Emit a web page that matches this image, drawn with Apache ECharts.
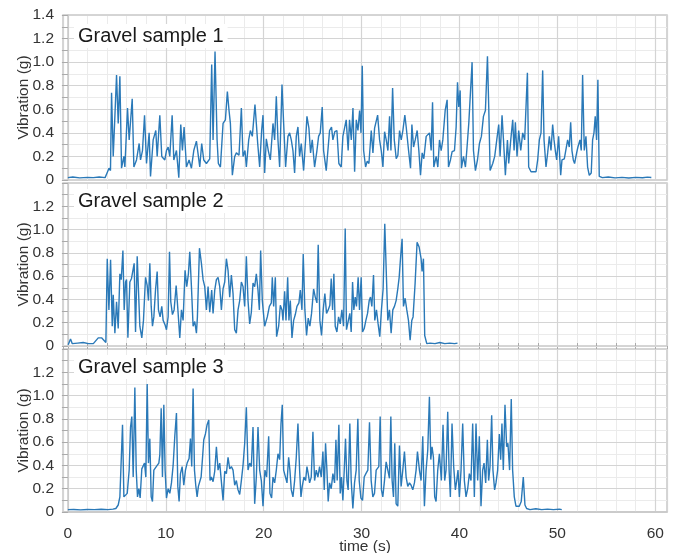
<!DOCTYPE html>
<html>
<head>
<meta charset="utf-8">
<script src="https://cdn.jsdelivr.net/npm/echarts@6/dist/echarts.min.js"></script>
<style>
html,body{margin:0;padding:0;background:#fff;}
#chart{width:678px;height:553px;}
</style>
</head>
<body>
<div id="chart"></div>
<script>
// ---- data (time in s, vibration in g) ----
const panelTitles = ['Gravel sample 1', 'Gravel sample 2', 'Gravel sample 3'];
const xTickLabels = ['0', '10', '20', '30', '40', '50', '60'];
const yTickLabels = ['0', '0.2', '0.4', '0.6', '0.8', '1.0', '1.2', '1.4'];

const sample1 = [
[0,0.02],[0.5,0.025],[1.2,0.018],[2.0,0.022],[2.6,0.02],[3.2,0.025],[3.8,0.02],[4.0,0.06],[4.2,0.1],[4.35,0.08],
[4.46,0.74],[4.63,0.20],[4.80,0.54],[4.97,0.89],[5.14,0.48],[5.31,0.88],[5.48,0.10],[5.72,0.20],[5.82,0.11],[6.09,0.61],
[6.26,0.34],[6.57,0.69],[6.74,0.11],[7.01,0.17],[7.28,0.31],[7.42,0.17],[7.62,0.25],[7.83,0.55],[8.03,0.14],[8.30,0.40],
[8.44,0.03],[8.71,0.34],[8.98,0.42],[9.12,0.20],[9.39,0.55],[9.59,0.20],[9.90,0.17],[10.07,0.25],[10.24,0.28],[10.41,0.20],
[10.65,0.55],[10.82,0.17],[11.09,0.25],[11.33,0.02],[11.53,0.47],[11.70,0.25],[11.87,0.45],[12.11,0.11],[12.38,0.17],[12.62,0.10],
[12.86,0.25],[13.13,0.33],[13.33,0.34],[13.47,0.11],[13.67,0.31],[13.88,0.17],[14.15,0.14],[14.49,0.18],[14.69,0.98],[14.83,0.34],
[15.03,1.09],[15.24,0.34],[15.37,0.14],[15.58,0.11],[15.85,0.48],[16.09,0.51],[16.29,0.75],[16.46,0.59],[16.60,0.48],[16.80,0.04],
[17.04,0.20],[17.21,0.23],[17.48,0.21],[17.72,0.61],[17.89,0.20],[18.09,0.25],[18.23,0.11],[18.47,0.34],[18.64,0.42],[18.84,0.37],
[19.11,0.64],[19.25,0.48],[19.39,0.31],[19.59,0.11],[19.79,0.42],[19.93,0.55],[20.10,0.06],[20.27,0.35],[20.47,0.25],[20.68,0.17],
[20.95,0.48],[21.12,0.34],[21.29,0.71],[21.46,0.34],[21.63,0.11],[21.87,0.81],[22.04,0.48],[22.24,0.11],[22.48,0.37],[22.65,0.40],
[22.82,0.34],[22.99,0.25],[23.16,0.06],[23.33,0.37],[23.50,0.45],[23.67,0.20],[23.84,0.31],[24.08,0.08],[24.28,0.34],[24.42,0.54],
[24.62,0.44],[24.79,0.23],[24.96,0.34],[25.20,0.11],[25.44,0.25],[25.61,0.37],[25.78,0.40],[25.98,0.62],[26.12,0.25],[26.39,0.08],
[26.59,0.28],[26.73,0.42],[26.93,0.45],[27.07,0.34],[27.27,0.41],[27.48,0.42],[27.68,0.14],[27.92,0.11],[28.09,0.37],[28.43,0.51],
[28.63,0.25],[28.77,0.51],[28.95,0.34],[29.12,0.61],[29.29,0.07],[29.46,0.51],[29.63,0.42],[29.80,0.59],[29.94,0.40],[30.07,0.97],
[30.21,0.25],[30.41,0.11],[30.58,0.16],[30.75,0.14],[30.99,0.42],[31.16,0.23],[31.33,0.44],[31.50,0.45],[31.64,0.55],[31.84,0.34],
[32.01,0.25],[32.18,0.11],[32.35,0.41],[32.52,0.34],[32.69,0.25],[32.86,0.54],[33.00,0.25],[33.17,0.78],[33.34,0.34],[33.54,0.18],
[33.71,0.21],[33.88,0.42],[34.05,0.34],[34.22,0.42],[34.42,0.55],[34.56,0.45],[34.80,0.25],[35.00,0.10],[35.14,0.47],[35.31,0.28],
[35.48,0.34],[35.68,0.42],[35.85,0.25],[36.02,0.04],[36.19,0.23],[36.36,0.18],[36.60,0.37],[36.77,0.38],[36.94,0.40],[37.11,0.25],
[37.25,0.66],[37.38,0.11],[37.62,0.20],[37.79,0.11],[37.96,0.34],[38.13,0.25],[38.30,0.34],[38.54,0.59],[38.74,0.68],[38.88,0.11],
[39.08,0.17],[39.25,0.24],[39.49,0.25],[39.66,0.45],[39.80,0.83],[39.93,0.62],[40.07,0.76],[40.20,0.10],[40.41,0.20],[40.61,0.11],
[40.75,0.25],[40.95,0.48],[41.12,0.47],[41.29,1.00],[41.43,0.25],[41.63,0.08],[41.84,0.17],[42.04,0.31],[42.24,0.37],[42.45,0.54],
[42.65,0.59],[42.86,1.05],[42.99,0.62],[43.13,0.08],[43.40,0.14],[43.60,0.20],[43.81,0.34],[44.01,0.47],[44.15,0.20],[44.35,0.55],
[44.49,0.35],[44.69,0.04],[44.90,0.34],[45.03,0.14],[45.24,0.34],[45.44,0.51],[45.58,0.25],[45.71,0.49],[45.88,0.20],[46.05,0.42],
[46.26,0.25],[46.46,0.40],[46.66,0.34],[46.80,0.34],[46.94,0.91],[47.07,0.11],[47.31,0.07],[47.82,0.07],[47.99,0.17],[48.16,0.34],
[48.33,0.40],[48.50,0.93],[48.64,0.34],[48.84,0.11],[49.01,0.23],[49.18,0.37],[49.35,0.25],[49.52,0.47],[49.66,0.34],[49.79,0.25],
[49.93,0.17],[50.13,0.37],[50.34,0.04],[50.47,0.17],[50.71,0.18],[50.88,0.18],[51.05,0.34],[51.22,0.28],[51.36,0.49],[51.49,0.25],
[51.63,0.17],[51.76,0.14],[51.97,0.23],[52.10,0.28],[52.31,0.34],[52.44,0.25],[52.58,0.89],[52.75,0.25],[52.92,0.37],[53.09,0.11],
[53.26,0.04],[53.46,0.06],[53.60,0.34],[53.74,0.40],[53.87,0.54],[54.01,0.34],[54.14,0.85],[54.28,0.03],[54.6,0.02],[55.2,0.025],
[55.9,0.018],[56.6,0.022],[57.3,0.017],[58.0,0.022],[58.7,0.019],[59.2,0.024],[59.6,0.021]
];

const sample2 = [
[0.03,0.01],[0.27,0.06],[0.45,0.02],[1.0,0.025],[1.56,0.03],[2.1,0.02],[2.6,0.02],[3.1,0.07],[3.44,0.07],[3.88,0.03],
[4.02,0.75],[4.19,0.31],[4.36,0.74],[4.53,0.17],[4.63,0.44],[4.80,0.11],[4.97,0.38],[5.14,0.15],[5.31,0.62],[5.45,0.57],
[5.62,0.82],[5.75,0.31],[5.89,0.55],[5.99,0.57],[6.13,0.07],[6.33,0.55],[6.50,0.58],[6.60,0.57],[6.77,0.71],[6.91,0.12],
[7.08,0.77],[7.21,0.48],[7.35,0.17],[7.55,0.07],[7.72,0.22],[7.93,0.59],[8.10,0.52],[8.23,0.39],[8.37,0.71],[8.51,0.34],
[8.64,0.17],[8.78,0.25],[8.95,0.48],[9.12,0.64],[9.25,0.31],[9.42,0.25],[9.59,0.34],[9.73,0.22],[9.93,0.18],[10.07,0.14],
[10.24,0.25],[10.38,0.81],[10.51,0.38],[10.68,0.27],[10.85,0.31],[11.06,0.52],[11.23,0.32],[11.43,0.07],[11.60,0.31],[11.77,0.22],
[11.97,0.65],[12.14,0.51],[12.31,0.62],[12.45,0.81],[12.62,0.51],[12.79,0.17],[12.96,0.21],[13.13,0.11],[13.23,0.25],[13.44,0.84],
[13.64,0.71],[13.81,0.57],[13.98,0.51],[14.15,0.31],[14.32,0.51],[14.49,0.29],[14.69,0.48],[14.83,0.28],[15.00,0.48],[15.17,0.57],
[15.34,0.59],[15.51,0.51],[15.68,0.31],[15.85,0.49],[16.02,0.55],[16.19,0.75],[16.36,0.65],[16.53,0.42],[16.70,0.61],[16.87,0.45],
[17.04,0.14],[17.21,0.11],[17.38,0.31],[17.55,0.39],[17.72,0.55],[17.89,0.51],[18.06,0.34],[18.23,0.77],[18.40,0.39],[18.57,0.19],
[18.74,0.29],[18.91,0.54],[19.08,0.51],[19.25,0.62],[19.42,0.48],[19.56,0.31],[19.69,0.82],[19.86,0.39],[20.10,0.17],[20.37,0.25],
[20.58,0.34],[20.78,0.37],[20.88,0.59],[21.02,0.34],[21.19,0.59],[21.32,0.08],[21.53,0.17],[21.70,0.35],[21.87,0.31],[21.97,0.22],
[22.14,0.47],[22.28,0.22],[22.45,0.59],[22.58,0.22],[22.72,0.39],[22.89,0.07],[23.06,0.22],[23.23,0.27],[23.40,0.34],[23.60,0.37],
[23.74,0.48],[23.91,0.31],[24.04,0.79],[24.21,0.31],[24.38,0.09],[24.55,0.24],[24.72,0.17],[24.89,0.28],[25.10,0.49],[25.27,0.42],
[25.44,0.37],[25.57,0.87],[25.74,0.22],[25.91,0.09],[26.08,0.31],[26.25,0.45],[26.42,0.28],[26.59,0.31],[26.76,0.35],[26.90,0.58],
[27.04,0.31],[27.17,0.62],[27.31,0.17],[27.48,0.12],[27.65,0.25],[27.82,0.19],[27.99,0.31],[28.16,0.17],[28.33,1.01],[28.46,0.14],
[28.63,0.15],[28.80,0.28],[28.94,0.12],[29.08,0.55],[29.21,0.31],[29.35,0.42],[29.48,0.34],[29.65,0.59],[29.79,0.31],[29.96,0.59],
[30.10,0.12],[30.27,0.15],[30.44,0.22],[30.61,0.28],[30.78,0.39],[30.91,0.42],[31.05,0.34],[31.22,0.61],[31.35,0.22],[31.52,0.31],
[31.69,0.19],[31.86,0.08],[32.03,0.31],[32.20,0.49],[32.37,1.05],[32.54,0.59],[32.68,0.22],[32.85,0.31],[33.02,0.11],[33.19,0.31],
[33.36,0.34],[33.53,0.39],[33.70,0.49],[33.84,0.59],[34.01,0.79],[34.14,0.92],[34.28,0.34],[34.45,0.41],[34.62,0.31],[34.79,0.22],
[34.96,0.05],[35.13,0.22],[35.26,0.25],[35.47,0.54],[35.67,0.89],[35.88,0.85],[36.08,0.75],[36.18,0.64],[36.32,0.75],[36.45,0.09],
[36.66,0.02],[37.0,0.025],[37.5,0.02],[38.0,0.03],[38.5,0.02],[39.0,0.025],[39.5,0.02],[39.8,0.025]
];

const sample3 = [
[0,0.02],[0.6,0.022],[1.3,0.018],[2.0,0.022],[2.7,0.02],[3.4,0.024],[4.1,0.02],[4.6,0.025],[4.9,0.03],[5.0,0.02],
[5.14,0.06],[5.31,0.13],[5.58,0.75],[5.72,0.13],[5.89,0.12],[6.06,0.16],[6.26,0.36],[6.40,0.73],[6.53,0.82],[6.67,0.30],
[6.84,1.07],[6.98,0.36],[7.11,0.13],[7.25,0.20],[7.38,0.12],[7.55,0.37],[7.69,0.36],[7.83,0.42],[7.96,0.30],[8.10,1.10],
[8.23,0.42],[8.37,0.63],[8.51,0.13],[8.64,0.09],[8.78,0.36],[8.95,0.37],[9.12,0.40],[9.29,0.42],[9.39,0.49],[9.53,0.89],
[9.66,0.30],[9.80,0.92],[9.93,0.36],[10.07,0.12],[10.24,0.20],[10.41,0.16],[10.58,0.25],[10.75,0.40],[10.92,0.65],[11.09,0.85],
[11.23,0.22],[11.36,0.09],[11.50,0.33],[11.67,0.39],[11.84,0.23],[12.01,0.36],[12.18,0.42],[12.38,0.46],[12.52,0.63],[12.65,0.39],
[12.79,1.06],[12.93,0.36],[13.06,0.23],[13.20,0.13],[13.33,0.22],[13.47,0.23],[13.61,0.30],[13.74,0.45],[13.88,0.62],[14.05,0.67],
[14.22,0.75],[14.39,0.79],[14.52,0.27],[14.66,0.30],[14.83,0.26],[15.00,0.35],[15.17,0.56],[15.34,0.36],[15.51,0.42],[15.68,0.43],
[15.85,0.10],[16.02,0.35],[16.19,0.33],[16.36,0.47],[16.53,0.37],[16.70,0.39],[16.87,0.36],[17.04,0.23],[17.21,0.27],[17.38,0.19],
[17.55,0.15],[17.72,0.27],[17.89,0.40],[18.06,0.59],[18.23,0.90],[18.40,0.36],[18.57,0.42],[18.74,0.39],[18.91,0.73],[19.08,0.07],
[19.25,0.30],[19.42,0.73],[19.59,0.36],[19.76,0.27],[19.93,0.05],[20.13,0.36],[20.30,0.30],[20.51,0.65],[20.64,0.16],[20.81,0.12],
[20.95,0.30],[21.12,0.25],[21.29,0.36],[21.46,0.50],[21.63,0.45],[21.77,0.76],[21.90,0.92],[22.04,0.36],[22.21,0.36],[22.38,0.25],
[22.55,0.47],[22.68,0.36],[22.82,0.19],[22.99,0.13],[23.16,0.27],[23.33,0.47],[23.50,0.76],[23.67,0.36],[23.81,0.13],[23.94,0.22],
[24.11,0.30],[24.28,0.27],[24.42,0.39],[24.55,0.33],[24.69,0.25],[24.86,0.30],[25.03,0.69],[25.20,0.27],[25.37,0.36],[25.54,0.30],
[25.71,0.39],[25.88,0.30],[26.05,0.52],[26.19,0.19],[26.32,0.59],[26.46,0.36],[26.59,0.09],[26.73,0.25],[26.90,0.20],[27.07,0.33],
[27.24,0.25],[27.38,0.62],[27.51,0.27],[27.68,0.75],[27.82,0.16],[27.95,0.30],[28.09,0.10],[28.23,0.36],[28.36,0.63],[28.50,0.27],
[28.63,0.19],[28.80,0.76],[28.94,0.27],[29.11,0.03],[29.28,0.25],[29.45,0.36],[29.62,0.80],[29.76,0.27],[29.93,0.12],[30.10,0.10],
[30.27,0.30],[30.44,0.33],[30.64,0.36],[30.81,0.77],[30.98,0.27],[31.15,0.13],[31.32,0.16],[31.49,0.36],[31.66,0.36],[31.76,0.39],
[31.90,0.82],[32.03,0.19],[32.17,0.13],[32.34,0.27],[32.51,0.43],[32.68,0.42],[32.85,0.29],[32.99,0.82],[33.12,0.27],[33.26,0.13],
[33.39,0.59],[33.53,0.07],[33.70,0.05],[33.87,0.57],[34.04,0.22],[34.21,0.36],[34.38,0.52],[34.55,0.30],[34.72,0.22],[34.89,0.25],
[35.06,0.23],[35.23,0.19],[35.40,0.25],[35.57,0.36],[35.71,0.52],[35.91,0.36],[36.08,0.27],[36.25,0.65],[36.42,0.05],[36.59,0.36],
[36.76,0.53],[36.93,0.99],[37.07,0.45],[37.20,0.56],[37.34,0.47],[37.47,0.13],[37.61,0.09],[37.78,0.36],[37.95,0.50],[38.15,0.27],
[38.32,0.75],[38.49,0.27],[38.63,0.36],[38.80,0.86],[38.94,0.36],[39.07,0.13],[39.24,0.76],[39.41,0.39],[39.58,0.19],[39.72,0.27],
[39.85,0.36],[39.99,0.13],[40.16,0.36],[40.33,0.76],[40.50,0.27],[40.67,0.13],[40.84,0.20],[41.01,0.33],[41.18,0.27],[41.35,0.76],
[41.52,0.13],[41.69,0.76],[41.86,0.27],[42.03,0.65],[42.20,0.05],[42.37,0.36],[42.51,0.42],[42.68,0.25],[42.85,0.62],[42.98,0.27],
[43.12,0.39],[43.29,0.83],[43.42,0.36],[43.59,0.19],[43.73,0.25],[43.90,0.36],[44.07,0.67],[44.21,0.45],[44.34,0.76],[44.48,0.36],
[44.65,0.92],[44.82,0.56],[44.95,0.59],[45.12,0.36],[45.29,0.97],[45.43,0.36],[45.60,0.13],[45.77,0.05],[45.94,0.06],[46.11,0.05],
[46.31,0.09],[46.52,0.30],[46.69,0.06],[46.86,0.03],[47.2,0.02],[47.8,0.028],[48.4,0.02],[49.0,0.025],[49.6,0.02],[50.2,0.025],[50.45,0.02]
];

const samples = [sample1, sample2, sample3];

// ---- chart ----
const FONT = 'Liberation Sans, Arial, Helvetica, sans-serif';
const grids = [
  {left: 63, right: 11, top: 15, height: 165},
  {left: 63, right: 11, top: 183, height: 163},
  {left: 63, right: 11, top: 349, height: 163}
];
const titleTops = [24, 189, 355];

const xAxes = [], yAxes = [], series = [], titles = [];
grids.forEach((g, i) => {
  const last = i === 2;
  // major x axis (every 10 s)
  xAxes.push({
    type: 'value', gridIndex: i, min: -0.5, max: 61.2, minInterval: 10, maxInterval: 10, z: 2,
    axisLine: {show: last, lineStyle: {color: '#c8c8c8', width: 1.5}},
    axisTick: {show: false},
    axisLabel: {
      show: last, fontSize: 15.5, color: '#333', fontFamily: FONT, margin: 14,
      formatter: v => { const k = Math.round(v / 10); return Math.abs(v - k * 10) < 1e-6 ? (xTickLabels[k] || '') : ''; }
    },
    splitLine: {show: true, lineStyle: {color: '#d4d4d4', width: 1.2}},
    name: last ? 'time (s)' : '', nameLocation: 'middle', nameGap: 27, nameMoveOverlap: false,
    nameTextStyle: {fontSize: 15.5, color: '#333', fontFamily: FONT}
  });
  // minor x axis (every 2 s)
  xAxes.push({
    type: 'value', gridIndex: i, min: -0.5, max: 61.2, minInterval: 2, maxInterval: 2, z: 1,
    axisLine: {show: false},
    axisTick: {show: last, length: 6, lineStyle: {color: '#aaa'}},
    axisLabel: {show: false},
    splitLine: {show: true, lineStyle: {color: '#ebebeb', width: 1}}
  });
  yAxes.push({
    type: 'value', gridIndex: i, min: 0, max: 1.4, interval: 0.2, z: 2,
    axisLine: {show: true, lineStyle: {color: '#c8c8c8', width: 1.5}},
    axisTick: {show: true, length: 6, lineStyle: {color: '#aaa'}},
    minorTick: {show: true, splitNumber: 2, length: 6, lineStyle: {color: '#aaa'}},
    splitLine: {show: true, lineStyle: {color: '#d4d4d4', width: 1.2}},
    minorSplitLine: {show: true, lineStyle: {color: '#ebebeb'}},
    axisLabel: {
      fontSize: 15.5, color: '#333', fontFamily: FONT, margin: 9, showMaxLabel: i === 0,
      formatter: v => yTickLabels[Math.round(v / 0.2)] || ''
    },
    name: 'Vibration (g)', nameLocation: 'middle', nameGap: 31, nameMoveOverlap: false,
    nameTextStyle: {fontSize: 15.5, color: '#333', fontFamily: FONT}
  });
  series.push({
    type: 'line', xAxisIndex: i * 2, yAxisIndex: i, data: samples[i],
    showSymbol: false, symbol: 'none', smooth: false, sampling: null,
    lineStyle: {color: '#2a79b8', width: 1.4}, z: 3
  });
  titles.push({
    text: panelTitles[i], left: 74, top: titleTops[i], padding: [2, 4],
    backgroundColor: '#ffffff',
    textStyle: {fontSize: 20, fontWeight: 'normal', color: '#1a1a1a', fontFamily: FONT}
  });
});

const chart = echarts.init(document.getElementById('chart'), null, {renderer: 'canvas'});
chart.setOption({
  animation: false,
  backgroundColor: '#ffffff',
  title: titles,
  grid: grids.map(g => Object.assign({
    show: true, borderColor: '#c8c8c8', borderWidth: 1.5, backgroundColor: '#ffffff',
    containLabel: false, outerBoundsMode: 'none'
  }, g)),
  xAxis: xAxes,
  yAxis: yAxes,
  series: series
});
</script>
</body>
</html>
